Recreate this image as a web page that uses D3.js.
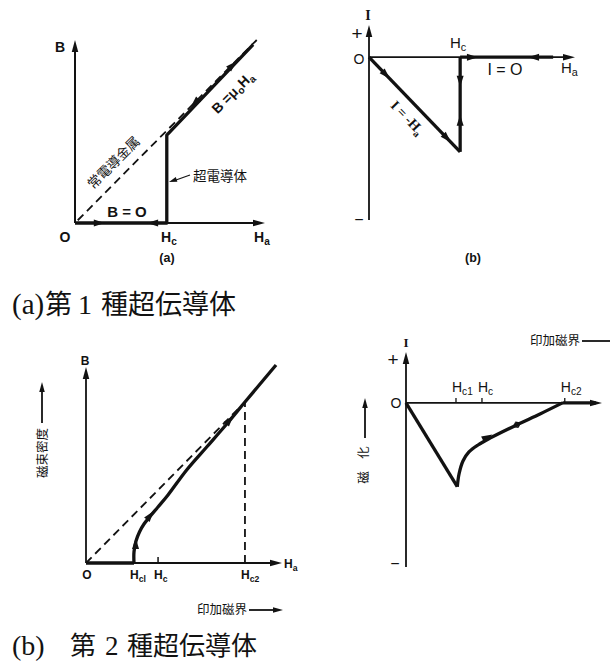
<!DOCTYPE html>
<html>
<head>
<meta charset="utf-8">
<script src="https://cdn.jsdelivr.net/npm/d3@7"></script>
<style>
  html, body { margin: 0; padding: 0; background: #fff; }
  svg { display: block; }
  text { white-space: pre; }
</style>
</head>
<body>
<svg id="fig" width="610" height="664"></svg>
<script>
// ---------------- data (field in units of Hc) ----------------
// Type I superconductor: flux density B against applied field Ha
const t1B_normalMetal = [[0.03, 0.03], [1.98, 2.0]];
const t1B_superconductor = [[0, 0], [1, 0], [1, 0.96], [1.94, 1.95]];
const t1B_arrows = [[0.27, 0, 1, 0], [0.84, 0, -1, 0], [1.72, 1.73, 1, 1], [1.30, 1.31, -1, -1]];

// Type I superconductor: magnetization I against applied field Ha
const t1I_diamagnetic = [[0, 0], [1, -1]];
const t1I_jump = [[1, 0], [1, -1]];
const t1I_normal = [[1, 0], [2.02, 0]];
const t1I_arrows = [[0.19, -0.19, 1, -1], [0.86, -0.86, 1, -1], [1, -0.26, 0, -1], [1, -0.66, 0, 1], [1.14, 0, 1, 0], [1.80, 0, -1, 0]];

// Type II superconductor: flux density B against applied field Ha
const t2_fieldTicks = [0.666, 1, 2.206];
const t2_tickSubs = ["cl", "c", "c2"];
const t2B_normalMetal = [[0, 0], [2.206, 2.234]];
const t2B_hc2Guide = [[2.206, 0], [2.206, 2.234]];
const t2B_meissner = [[0, 0], [0.666, 0]];
const t2B_mixed = [[0.666, 0], [0.666, 0.153], [0.694, 0.305], [0.742, 0.430], [0.805, 0.541],
  [0.888, 0.645], [0.999, 0.777], [1.138, 0.944], [1.397, 1.291], [1.675, 1.610],
  [1.953, 1.929], [2.206, 2.234], [2.637, 2.748]];
const t2B_arrows = [[0.689, 0.278, 0.02, 1], [0.897, 0.666, 0.8, 1], [2.0, 1.99, 1, 1.2]];

// Type II superconductor: magnetization I against applied field Ha
const t2I_fieldTicks = [0.658, 1, 2.09];
const t2I_tickSubs = ["c1", "c", "c2"];
const t2I_meissner = [[0, 0], [0.675, -0.659]];
const t2I_mixed = [[0.675, -0.659], [0.698, -0.559], [0.750, -0.457], [0.829, -0.386],
  [0.948, -0.331], [1.106, -0.277], [1.457, -0.173], [1.764, -0.087], [2.06, 0]];
const t2I_normal = [[2.06, 0], [2.50, 0]];
const t2I_arrows = [[1.08, -0.267, 1, 0.3]];
const t2I_bothWays = [[1.46, -0.172, 1, 0.29]];

// ---------------- drawing ----------------
const INK = "#121212";
const SANS = "'Liberation Sans', Arial, sans-serif";
const CJK = "'Noto Sans CJK JP', sans-serif";
const SERIF = "'Liberation Serif', 'Noto Sans CJK JP', serif";
const svg = d3.select("#fig");
svg.append("rect").attr("width", 610).attr("height", 664).attr("fill", "#fff");

function tri(g, tx, ty, ang, len, wid) {
  const bx = tx - len * Math.cos(ang), by = ty - len * Math.sin(ang);
  const nx = -Math.sin(ang) * wid / 2, ny = Math.cos(ang) * wid / 2;
  g.append("path")
    .attr("d", `M${tx},${ty}L${bx + nx},${by + ny}L${bx - nx},${by - ny}Z`)
    .attr("fill", INK);
}

function pathArrows(g, xs, ys, list, both) {
  list.forEach(([x, y, dx, dy]) => {
    const e = 0.01;
    const px = xs(x), py = ys(y);
    const ang = Math.atan2(ys(y + dy * e) - py, xs(x + dx * e) - px);
    if (both) {
      tri(g, px + 5 * Math.cos(ang), py + 5 * Math.sin(ang), ang, 5, 7);
      tri(g, px - 5 * Math.cos(ang), py - 5 * Math.sin(ang), ang + Math.PI, 5, 7);
    } else {
      tri(g, px + 5 * Math.cos(ang), py + 5 * Math.sin(ang), ang, 11, 7);
    }
  });
}

function axes(g, xs, ys, xEnd, yTop, yBottom, w) {
  const x0 = xs(0), y0 = ys(0);
  g.append("line").attr("x1", x0).attr("y1", y0).attr("x2", xs(xEnd) - 6).attr("y2", y0)
    .attr("stroke", INK).attr("stroke-width", w);
  tri(g, xs(xEnd), y0, 0, 12, 6.5);
  g.append("line").attr("x1", x0).attr("y1", ys(yBottom)).attr("x2", x0).attr("y2", ys(yTop) + 6)
    .attr("stroke", INK).attr("stroke-width", w);
  tri(g, x0, ys(yTop), -Math.PI / 2, 12, 6.5);
}

function curve(g, xs, ys, data, opts = {}) {
  const line = d3.line().x(d => xs(d[0])).y(d => ys(d[1]))
    .curve(opts.smooth ? d3.curveCatmullRom.alpha(0.5) : d3.curveLinear);
  g.append("path").attr("d", line(data)).attr("fill", "none")
    .attr("stroke", INK).attr("stroke-width", opts.w || 3.3)
    .attr("stroke-linejoin", "round")
    .attr("stroke-dasharray", opts.dash || null);
}

// text built from [string, isSubscript] parts
function label(g, x, y, parts, o = {}) {
  const t = g.append("text").attr("x", x).attr("y", y)
    .attr("font-family", o.family || SANS).attr("font-size", o.size || 13)
    .attr("font-weight", o.weight || "normal").attr("fill", INK)
    .attr("text-anchor", o.anchor || "start");
  if (o.rotate) t.attr("transform", `rotate(${o.rotate},${x},${y})`);
  let shifted = false;
  parts.forEach(([s, sub]) => {
    const ts = t.append("tspan").text(s);
    if (sub && !shifted) { ts.attr("font-size", "0.72em").attr("dy", "0.3em"); shifted = true; }
    else if (!sub && shifted) { ts.attr("dy", "-0.22em"); shifted = false; }
  });
  return t;
}

// ===== Panel: type I, B–Ha =====
{
  const g = svg.append("g");
  const xs = d3.scaleLinear().domain([0, 2.07]).range([75, 265]);
  const ys = d3.scaleLinear().domain([0, 2.0]).range([223, 40]);
  axes(g, xs, ys, 2.07, 2.0, 0, 2);
  curve(g, xs, ys, t1B_normalMetal, { w: 1.8, dash: "8,5" });
  curve(g, xs, ys, t1B_superconductor, { w: 3.3 });
  pathArrows(g, xs, ys, t1B_arrows);
  label(g, 60, 52, [["B"]], { weight: "bold", size: 14, anchor: "middle" });
  label(g, 65, 242, [["O"]], { weight: "bold", size: 14, anchor: "middle" });
  label(g, 161, 242, [["H"], ["c", 1]], { weight: "bold", size: 14 });
  label(g, 254, 242, [["H"], ["a", 1]], { weight: "bold", size: 14 });
  label(g, 167, 262, [["(a)"]], { weight: "bold", size: 12.5, anchor: "middle" });
  label(g, 127, 217, [["B = O"]], { weight: "bold", size: 15, anchor: "middle" });
  label(g, 117, 166, [["常電導金属"]], { family: CJK, size: 13.5, anchor: "middle", rotate: -45 });
  label(g, 236, 96, [["B =μ"], ["o", 1], ["H"], ["a", 1]], { weight: "bold", size: 14, anchor: "middle", rotate: -45 });
  label(g, 193, 181, [["超電導体"]], { family: CJK, size: 13.5 });
  g.append("line").attr("x1", 190).attr("y1", 175).attr("x2", 176).attr("y2", 180)
    .attr("stroke", INK).attr("stroke-width", 1.3);
  tri(g, 169, 182, Math.atan2(182 - 175, 169 - 190), 8, 5);
}

// ===== Panel: type I, I–Ha =====
{
  const g = svg.append("g");
  const xs = d3.scaleLinear().domain([0, 2.26]).range([369, 575]);
  const ys = d3.scaleLinear().domain([0.34, -1.72]).range([25, 220]);
  axes(g, xs, ys, 2.26, 0.34, -1.72, 1.8);
  curve(g, xs, ys, t1I_diamagnetic, { w: 3.3 });
  curve(g, xs, ys, t1I_jump, { w: 3.3 });
  curve(g, xs, ys, t1I_normal, { w: 3.3 });
  pathArrows(g, xs, ys, t1I_arrows);
  label(g, 368, 20, [["I"]], { family: SERIF, weight: "bold", size: 14, anchor: "middle" });
  label(g, 357, 40, [["+"]], { size: 19, anchor: "middle" });
  label(g, 359, 64, [["O"]], { size: 14, anchor: "middle" });
  label(g, 450, 48, [["H"], ["c", 1]], { size: 15 });
  label(g, 561, 73, [["H"], ["a", 1]], { size: 15 });
  label(g, 505, 75, [["I = O"]], { size: 16, anchor: "middle" });
  label(g, 359, 225, [["−"]], { size: 16, anchor: "middle" });
  label(g, 473, 262, [["(b)"]], { weight: "bold", size: 12.5, anchor: "middle" });
  label(g, 404, 121, [["I = -H"], ["a", 1]], { family: SERIF, weight: "bold", size: 14, anchor: "middle", rotate: 46 });
}

// ===== Title: type I =====
{
  const t = svg.append("text").attr("y", 314).attr("font-size", 27).attr("fill", INK)
    .attr("font-family", SERIF);
  t.append("tspan").attr("x", 12).attr("font-size", 29).text("(a)");
  t.append("tspan").attr("x", 45).attr("font-family", CJK).text("第");
  t.append("tspan").attr("x", 78).attr("font-size", 28).text("1");
  t.append("tspan").attr("x", 101).attr("font-family", CJK).text("種超伝導体");
}

// ===== Panel: type II, B–Ha =====
{
  const g = svg.append("g");
  const xs = d3.scaleLinear().domain([0, 2.72]).range([86, 282]);
  const ys = d3.scaleLinear().domain([0, 2.72]).range([563, 367]);
  axes(g, xs, ys, 2.72, 2.72, 0, 1.8);
  curve(g, xs, ys, t2B_normalMetal, { w: 1.8, dash: "8,5" });
  curve(g, xs, ys, t2B_hc2Guide, { w: 1.8, dash: "8,5" });
  curve(g, xs, ys, t2B_meissner, { w: 3.3 });
  curve(g, xs, ys, t2B_mixed, { w: 3.3, smooth: true });
  pathArrows(g, xs, ys, t2B_arrows);
  g.append("line").attr("x1", xs(t2_fieldTicks[1])).attr("x2", xs(t2_fieldTicks[1]))
    .attr("y1", ys(0)).attr("y2", ys(0) - 6).attr("stroke", INK).attr("stroke-width", 1.5);
  label(g, 85, 365, [["B"]], { weight: "bold", size: 12, anchor: "middle" });
  label(g, 87, 579, [["O"]], { weight: "bold", size: 12, anchor: "middle" });
  t2_fieldTicks.forEach((v, i) => {
    label(g, xs(v) - 4, 579, [["H"], [t2_tickSubs[i], 1]], { weight: "bold", size: 12 });
  });
  label(g, 284, 568, [["H"], ["a", 1]], { weight: "bold", size: 12 });
  // axis captions
  label(g, 47, 453, [["磁束密度"]], { family: CJK, size: 12.5, anchor: "middle", rotate: -90 });
  g.append("line").attr("x1", 42).attr("x2", 42).attr("y1", 423).attr("y2", 390)
    .attr("stroke", INK).attr("stroke-width", 1.8);
  tri(g, 42, 382, -Math.PI / 2, 10, 5.5);
  label(g, 197, 614, [["印加磁界"]], { family: CJK, size: 12.5 });
  g.append("line").attr("x1", 249).attr("x2", 274).attr("y1", 610).attr("y2", 610)
    .attr("stroke", INK).attr("stroke-width", 1.8);
  tri(g, 283, 610, 0, 10, 5.5);
}

// ===== Panel: type II, I–Ha =====
{
  const g = svg.append("g");
  const xs = d3.scaleLinear().domain([0, 2.58]).range([406, 602]);
  const ys = d3.scaleLinear().domain([0.40, -1.29]).range([352, 567]);
  axes(g, xs, ys, 2.58, 0.40, -1.29, 1.8);
  curve(g, xs, ys, t2I_meissner, { w: 3.3 });
  curve(g, xs, ys, t2I_mixed, { w: 3.3, smooth: true });
  curve(g, xs, ys, t2I_normal, { w: 3.3 });
  pathArrows(g, xs, ys, t2I_arrows);
  pathArrows(g, xs, ys, t2I_bothWays, true);
  t2I_fieldTicks.forEach((v, i) => {
    g.append("line").attr("x1", xs(v)).attr("x2", xs(v)).attr("y1", ys(0)).attr("y2", ys(0) - 5)
      .attr("stroke", INK).attr("stroke-width", 1.3);
    label(g, xs(v) - 4, 392, [["H"], [t2I_tickSubs[i], 1]], { size: 14 });
  });
  label(g, 406, 347, [["I"]], { family: SERIF, weight: "bold", size: 13, anchor: "middle" });
  label(g, 393, 366, [["+"]], { size: 19, anchor: "middle" });
  label(g, 396, 408, [["O"]], { size: 14, anchor: "middle" });
  label(g, 395, 569, [["−"]], { size: 16, anchor: "middle" });
  label(g, 530, 345, [["印加磁界"]], { family: CJK, size: 12.5 });
  g.append("line").attr("x1", 582).attr("x2", 610).attr("y1", 341).attr("y2", 341)
    .attr("stroke", INK).attr("stroke-width", 1.8);
  label(g, 368, 465, [["磁\u3000化"]], { family: CJK, size: 12.5, anchor: "middle", rotate: -90 });
  g.append("line").attr("x1", 365).attr("x2", 365).attr("y1", 438).attr("y2", 406)
    .attr("stroke", INK).attr("stroke-width", 1.8);
  tri(g, 365, 398, -Math.PI / 2, 10, 5.5);
}

// ===== Title: type II =====
{
  const t = svg.append("text").attr("y", 655).attr("font-size", 26).attr("fill", INK)
    .attr("font-family", SERIF);
  t.append("tspan").attr("x", 12).attr("font-size", 28).text("(b)");
  t.append("tspan").attr("x", 70).attr("font-family", CJK).text("第");
  t.append("tspan").attr("x", 105).attr("font-size", 27).text("2");
  t.append("tspan").attr("x", 127).attr("font-family", CJK).text("種超伝導体");
}
</script>
</body>
</html>
